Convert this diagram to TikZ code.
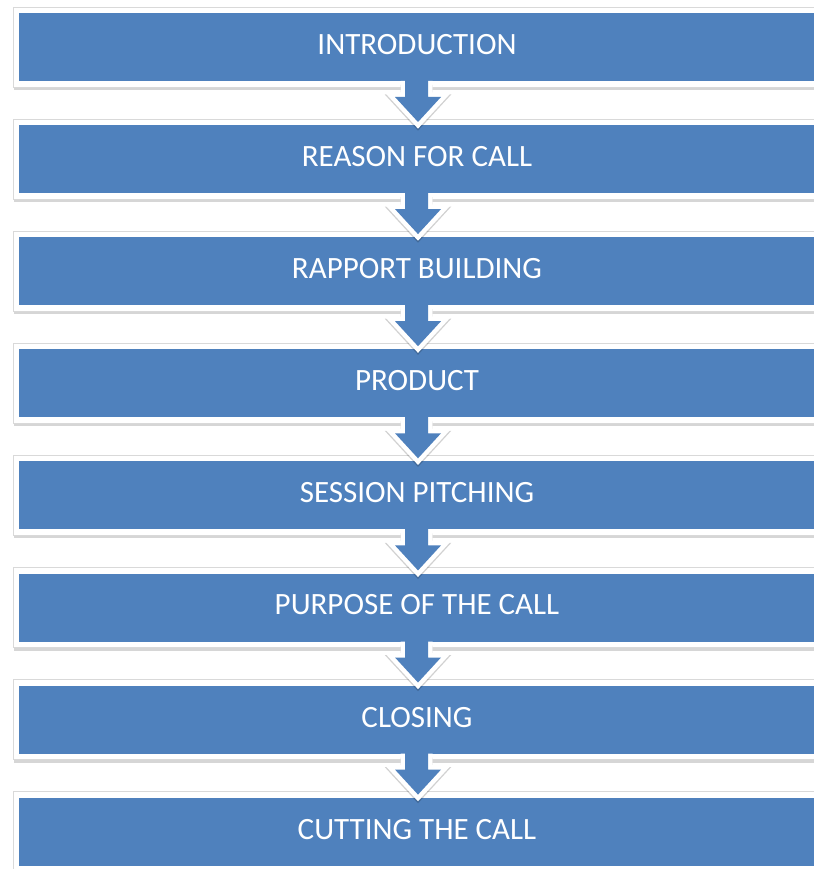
\documentclass[tikz,border=0pt]{standalone}
\usepackage{fontspec}
\setmainfont{Carlito}
\definecolor{stepblue}{HTML}{4F81BD}
\definecolor{framegray}{HTML}{D9D9D9}
\tikzset{
  frameshade/.style={fill=black, fill opacity=0.16, draw=none},
  framebox/.style={fill=white, draw=framegray, line width=0.6pt},
  stepbox/.style={fill=stepblue, draw=none},
  steplabel/.style={text=white, font=\fontsize{31}{34}\selectfont, inner sep=0pt, anchor=center},
  arrowrim/.style={draw=white, line width=9pt, line join=miter, miter limit=10},
  arrowshade/.style={draw=black, draw opacity=0.18, line width=9pt, line join=miter, miter limit=10},
  arrowbody/.style={fill=stepblue, draw=none}
}
\begin{document}
\begin{tikzpicture}[x=1pt, y=-1pt]
  \useasboundingbox (0,0) rectangle (813,869);
  % step boxes, top to bottom (they run on past the right edge)
  \foreach \k/\txt in {1/INTRODUCTION, 2/REASON FOR CALL, 3/RAPPORT BUILDING,
                       4/PRODUCT, 5/SESSION PITCHING, 6/PURPOSE OF THE CALL,
                       7/CLOSING, 8/CUTTING THE CALL} {
    \pgfmathsetmacro{\ytop}{13 + 112.1*(\k-1)}
    \pgfmathsetmacro{\ybot}{\ytop + 68}
    \path[frameshade] (14,\ytop-4) rectangle (900,\ybot+9);
    \path[framebox] (13,\ytop-6) rectangle (900,\ybot+6);
    \path[stepbox] (19,\ytop) rectangle (890,\ybot);
    \node[steplabel] (s\k) at (417,\ytop+31.5) {\txt};
  }
  % down arrows joining consecutive steps
  \foreach \k in {1,...,7} {
    \pgfmathsetmacro{\b}{81 + 112.1*(\k-1)}
    \path[arrowshade] (405,\b+4) -- (405,\b+18) -- (395,\b+18) -- (418,\b+43) -- (441,\b+18) -- (428,\b+18) -- (428,\b+4);
    \path[arrowrim] (405,\b) -- (405,\b+16) -- (395,\b+16) -- (418,\b+41) -- (441,\b+16) -- (428,\b+16) -- (428,\b);
    \path[arrowbody] (405,\b-3) -- (405,\b+16) -- (395,\b+16) -- (418,\b+41) -- (441,\b+16) -- (428,\b+16) -- (428,\b-3) -- cycle;
  }
\end{tikzpicture}
\end{document}
